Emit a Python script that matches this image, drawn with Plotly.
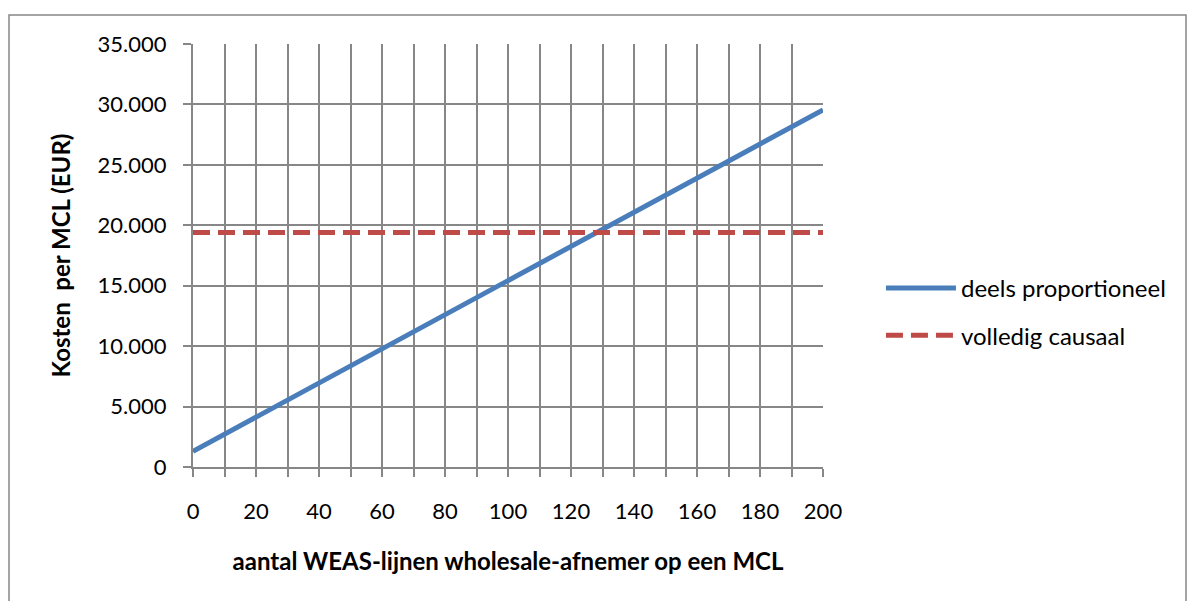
import plotly.graph_objects as go

x_vals = [0, 200]
deels_proportioneel = [1300, 29550]
volledig_causaal = [19400, 19400]
series_names = ["deels proportioneel", "volledig causaal"]
x_title = "aantal WEAS-lijnen wholesale-afnemer op een MCL"
y_title = "Kosten  per MCL (EUR)"

FONT = "Lato, Open Sans, sans-serif"
GRID = "#878787"

fig = go.Figure()
fig.add_trace(go.Scatter(x=x_vals, y=deels_proportioneel, mode="lines", name=series_names[0],
                         legendgroup="a",
                         line=dict(color="#4a7ebb", width=5)))
fig.add_trace(go.Scatter(x=x_vals, y=volledig_causaal, mode="lines", name=series_names[1],
                         legendgroup="b",
                         line=dict(color="#be4b48", width=5, dash="17px,8px")))

fig.update_layout(
    width=1187, height=593,
    margin=dict(l=185, r=372, t=36, b=134),
    paper_bgcolor="white", plot_bgcolor="white",
    separators=",.",
    font=dict(family=FONT, size=22, color="black"),
    legend=dict(x=1.092, y=(467 - 312) / 423, xanchor="left", yanchor="middle",
                font=dict(size=24), itemwidth=70, tracegroupgap=13,
                bgcolor="rgba(0,0,0,0)"),
    xaxis=dict(range=[0, 200], dtick=20, tick0=0, showgrid=True, gridcolor=GRID, gridwidth=2,
               ticks="outside", ticklen=8, tickcolor=GRID, tickwidth=2,
               showline=True, linecolor=GRID, linewidth=2, zeroline=False,
               minor=dict(dtick=10, showgrid=True, gridcolor=GRID, gridwidth=2,
                          ticks="outside", ticklen=8, tickcolor=GRID, tickwidth=2),
               tickfont=dict(size=22), ticklabelstandoff=16,
               title=dict(text="<b>" + x_title + "</b>", font=dict(size=24), standoff=30)),
    yaxis=dict(range=[0, 35000], dtick=5000, showgrid=True, gridcolor=GRID, gridwidth=2,
               ticks="outside", ticklen=8, tickcolor=GRID, tickwidth=2,
               showline=True, linecolor=GRID, linewidth=2, zeroline=False,
               tickformat=",d", tickfont=dict(size=22), ticklabelstandoff=12,
               title=dict(text="<b>" + y_title + "</b>", font=dict(size=24), standoff=20)),
    shapes=[dict(type="rect", xref="paper", yref="paper",
                 x0=(9 - 193) / 630, x1=(1186 - 193) / 630,
                 y0=(467 - 610) / 423, y1=(467 - 15) / 423,
                 line=dict(color="#878787", width=1.5), fillcolor="rgba(0,0,0,0)", layer="below")],
)

fig.write_html("out.html")
